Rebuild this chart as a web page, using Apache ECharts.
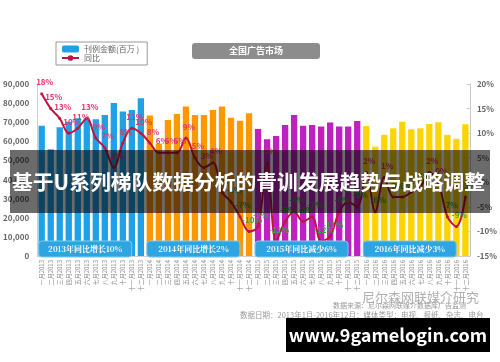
<!DOCTYPE html>
<html><head><meta charset="utf-8">
<script src="https://cdn.jsdelivr.net/npm/echarts@6/dist/echarts.min.js"></script>
<style>html,body{margin:0;padding:0;background:#fff}#c{width:500px;height:362px}</style>
</head><body><div id="c"></div>
<script>
const years = ['2013','2014','2015','2016'];
const months = ['一月','二月','三月','四月','五月','六月','七月','八月','九月','十月','十一月','十二月'];
const amount2013 = [68200,55800,67400,70300,72100,72000,71600,73800,80000,75600,76400,82600];
const amount2014 = [73500,58800,71200,74300,78200,73800,73800,76400,78200,72400,70800,74700];
const amount2015 = [66500,61100,62800,68600,73800,68200,68600,67700,69800,67700,67700,70700];
const amount2016 = [68000,57200,63400,66800,70300,66300,66800,69100,70000,63400,61300,69000];
const yoy2013 = [18,15,13,10,11,13,9,7,3,8,11,10];
const yoy2014 = [8,6,6,6,9,5,3,4,-2,-4,-7,-10];
const yoy2015 = [-9,4,-12,-8,-6,-8,-7,-12,-11,-6,-4,-5];
const yoy2016 = [2,-6,1,-3,-3,-2,-1,2,0,-7,-9,-3];
const yearNotes = ['2013年同比增长10%','2014年同比增长2%','2015年同比减少6%','2016年同比减少3%'];
const seriesNames = ['刊例金额(百万 )','同比'];
const chartTitle = '全国广告市场';
const bannerText = '基于U系列梯队数据分析的青训发展趋势与战略调整';
const sourceText = '数据来源：尼尔森网联媒介数据库广告监测';
const dateText = '数据日期：2013年1月-2016年12月；媒体类型：电视、报纸、杂志、电台';
const watermarkText = '尼尔森网联媒介研究';
const siteText = 'www.9gamelogin.com';

const yearColors = ['#1ea1e6','#fe9800','#bd22be','#ffd400'];
const amounts = [amount2013, amount2014, amount2015, amount2016];
const yoys = [yoy2013, yoy2014, yoy2015, yoy2016];

const categories = [];
const barData = [];
const lineData = [];
years.forEach((y, yi) => {
  months.forEach((m, mi) => {
    categories.push(m + y);
    barData.push({value: amounts[yi][mi], itemStyle: {color: yearColors[yi]}});
    const v = yoys[yi][mi];
    lineData.push({value: v, label: {color: v < 0 ? '#3f9f3f' : '#e2356c'}});
  });
});

const chart = echarts.init(document.getElementById('c'), null, {renderer: 'canvas'});
const font = '"Noto Sans CJK SC", "Noto Sans", sans-serif';
chart.setOption({
  animation: false,
  backgroundColor: '#fff',
  textStyle: {fontFamily: font},
  title: {
    text: chartTitle, left: 192, top: 43,
    backgroundColor: '#8c8c8c', borderRadius: 3,
    padding: [3, 37, 3, 37],
    textStyle: {color: '#fff', fontSize: 9, fontWeight: 'bold', fontFamily: font, lineHeight: 10}
  },
  legend: {
    left: 56, top: 42, orient: 'vertical', itemGap: 1,
    padding: [3, 8, 3, 5], borderColor: '#999', borderWidth: 1,
    itemWidth: 17, itemHeight: 7,
    textStyle: {fontSize: 8, color: '#666', fontFamily: font},
    data: seriesNames
  },
  grid: {left: 36, right: 30, top: 84, bottom: 106, containLabel: false},
  xAxis: {
    type: 'category', data: categories,
    axisLine: {show: true, lineStyle: {color: '#d0d0d0'}},
    axisTick: {show: false},
    axisLabel: {interval: 0, rotate: 90, fontSize: 6, color: '#888', margin: 4, fontFamily: font}
  },
  yAxis: [
    {type: 'value', min: 0, max: 90000, interval: 10000,
     axisLine: {show: true, lineStyle: {color: '#d0d0d0'}},
     axisTick: {show: false}, splitLine: {show: false},
     axisLabel: {fontSize: 8, color: '#666', margin: 8, fontWeight: 'bold',
       formatter: v => v.toLocaleString('en-US')}},
    {type: 'value', min: -15, max: 20, interval: 5,
     axisLine: {show: true, lineStyle: {color: '#c8c8c8'}},
     axisTick: {show: true, length: 3, inside: true, lineStyle: {color: '#c8c8c8'}}, splitLine: {show: false},
     axisLabel: {fontSize: 8, color: '#666', margin: 7, fontWeight: 'bold', formatter: '{value}%'}}
  ],
  series: [
    {name: seriesNames[0], type: 'bar', data: barData, barCategoryGap: '30%',
     itemStyle: {color: yearColors[0]}},
    {name: seriesNames[1], type: 'line', yAxisIndex: 1, data: lineData, smooth: 0.35,
     symbol: 'circle', symbolSize: 3,
     lineStyle: {color: '#c3123e', width: 2}, itemStyle: {color: '#c3123e'},
     label: {show: true, position: 'top', distance: 4, offset: [3, -2], fontSize: 8, fontWeight: 'bold', formatter: '{c}%'}}
  ]
});

// annotations
const graphics = [];
yearNotes.forEach((t, i) => {
  const cx = chart.convertToPixel({xAxisIndex: 0}, categories[i * 12]);
  const x0 = cx - 3;
  graphics.push({type: 'rect', shape: {x: x0, y: 241, width: 93, height: 16, r: 3},
    style: {fill: '#2ea4e0', stroke: '#7cc8ee', lineWidth: 1}, z: 20});
  graphics.push({type: 'text', x: x0 + 46.5, y: 249,
    style: {text: t, fill: '#fff', font: 'bold 8px "Noto Serif CJK SC", "Noto Sans CJK SC", serif', textAlign: 'center', textVerticalAlign: 'middle'}, z: 21});
});
graphics.push({type: 'text', x: 362, y: 291,
  style: {text: watermarkText, fill: 'rgba(150,150,150,0.75)', font: '13px ' + font, textAlign: 'left'}, z: 30});
graphics.push({type: 'text', x: 466, y: 302,
  style: {text: sourceText, fill: '#999', font: '7px ' + font, textAlign: 'right'}, z: 31});
graphics.push({type: 'text', x: 240, y: 311,
  style: {text: dateText, fill: '#999', font: '7.5px ' + font, textAlign: 'left'}, z: 31});
graphics.push({type: 'rect', shape: {x: 286, y: 318, width: 204, height: 34},
  style: {fill: '#000'}, z: 40});
graphics.push({type: 'text', x: 388, y: 335,
  style: {text: siteText, fill: '#fff', font: 'bold 18px ' + font, textAlign: 'center', textVerticalAlign: 'middle'}, z: 41});
graphics.push({type: 'rect', shape: {x: 10, y: 150, width: 480, height: 63},
  style: {fill: 'rgba(0,0,0,0.58)'}, z: 50});
graphics.push({type: 'text', x: 12, y: 182,
  style: {text: bannerText, fill: '#fff', font: 'bold 20.8px ' + font, textAlign: 'left', textVerticalAlign: 'middle'}, z: 51});
chart.setOption({graphic: graphics});
</script>
</body></html>
